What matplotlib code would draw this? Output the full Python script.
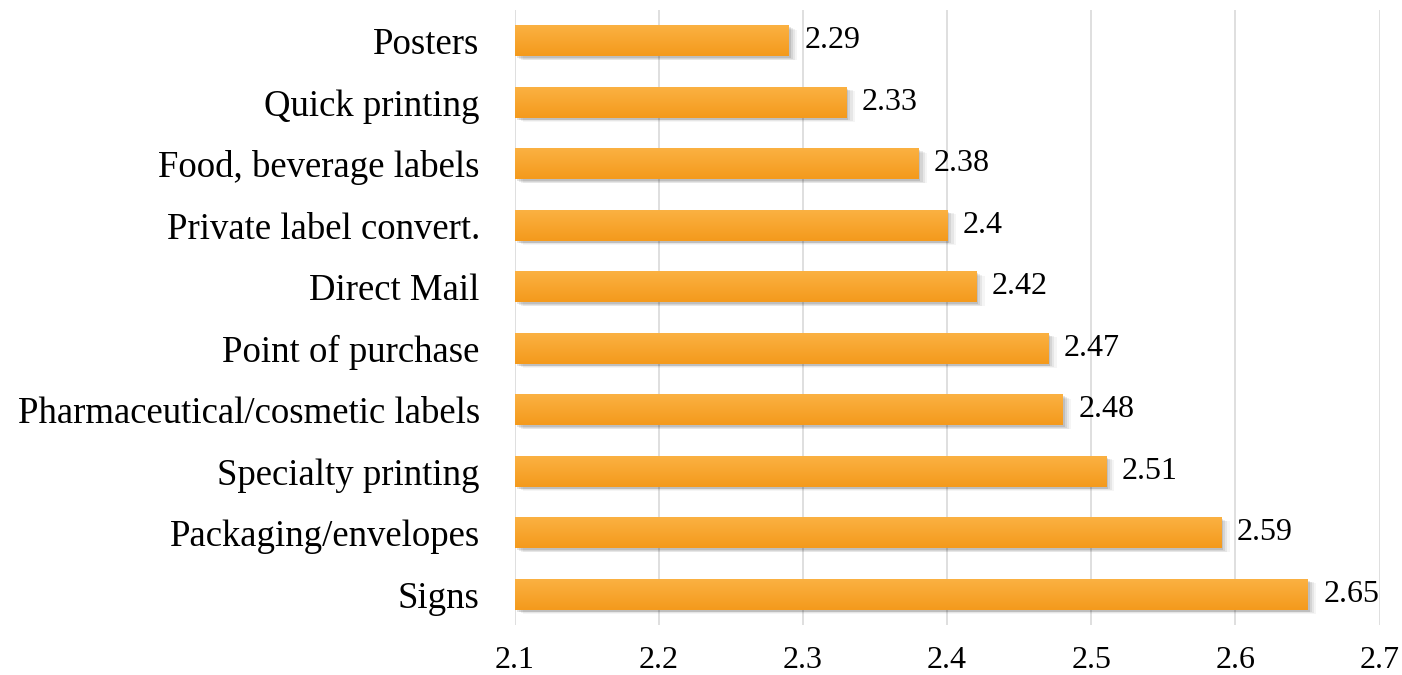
import numpy as np
import matplotlib.pyplot as plt
from matplotlib.colors import LinearSegmentedColormap

categories = ["Signs", "Packaging/envelopes", "Specialty printing",
              "Pharmaceutical/cosmetic labels", "Point of purchase",
              "Direct Mail", "Private label convert.", "Food, beverage labels",
              "Quick printing", "Posters"]
values = [2.65, 2.59, 2.51, 2.48, 2.47, 2.42, 2.40, 2.38, 2.33, 2.29]
value_text = ["2.65", "2.59", "2.51", "2.48", "2.47", "2.42", "2.4", "2.38", "2.33", "2.29"]
xticks = [2.1, 2.2, 2.3, 2.4, 2.5, 2.6, 2.7]

plt.rcParams['font.family'] = ['Liberation Serif', 'DejaVu Serif']

fig = plt.figure(figsize=(14.02, 6.75), dpi=100)
ax = fig.add_axes([0.367, 0.074, 0.617, 0.911])

x0 = 2.1
h = 0.5
y = np.arange(len(categories))
grad = LinearSegmentedColormap.from_list("org", ["#f49a1c", "#fbb142"])
gimg = np.linspace(0, 1, 64).reshape(-1, 1)

bars = ax.barh(y, np.array(values) - x0, left=x0, height=h, color="none",
               edgecolor="none", zorder=3)
for b in bars:
    bx, by, bw, bh = b.get_x(), b.get_y(), b.get_width(), b.get_height()
    # soft drop shadow
    for k, a in zip(range(4), [0.10, 0.08, 0.06, 0.04]):
        d = 0.0015 * (k + 1)
        ax.add_patch(plt.Rectangle((bx + d, by - 0.03 - 0.012 * k), bw, bh,
                                   color="black", alpha=a, lw=0, zorder=2))
    im = ax.imshow(gimg, cmap=grad, aspect="auto", origin="lower",
                   extent=(bx, bx + bw, by, by + bh), zorder=3)
    im.set_clip_path(b)

for yi, v, t in zip(y, values, value_text):
    ax.text(v + 0.011, yi, t, va="center", ha="left", fontsize=23, zorder=4)

ax.set_xlim(2.1, 2.7)
ax.set_ylim(-0.5, len(categories) - 0.5)
ax.set_xticks(xticks)
ax.set_xticklabels([str(t) for t in xticks], fontsize=23)
ax.set_yticks(y)
ax.set_yticklabels(categories, fontsize=26.5)
ax.tick_params(length=0)
ax.tick_params(axis="y", pad=25)
ax.tick_params(axis="x", pad=15)
ax.grid(axis="x", color="#d9d9d9", lw=1.2, zorder=0)
ax.set_axisbelow(True)
for s in ax.spines.values():
    s.set_visible(False)

fig.savefig("out.png", dpi=100)
